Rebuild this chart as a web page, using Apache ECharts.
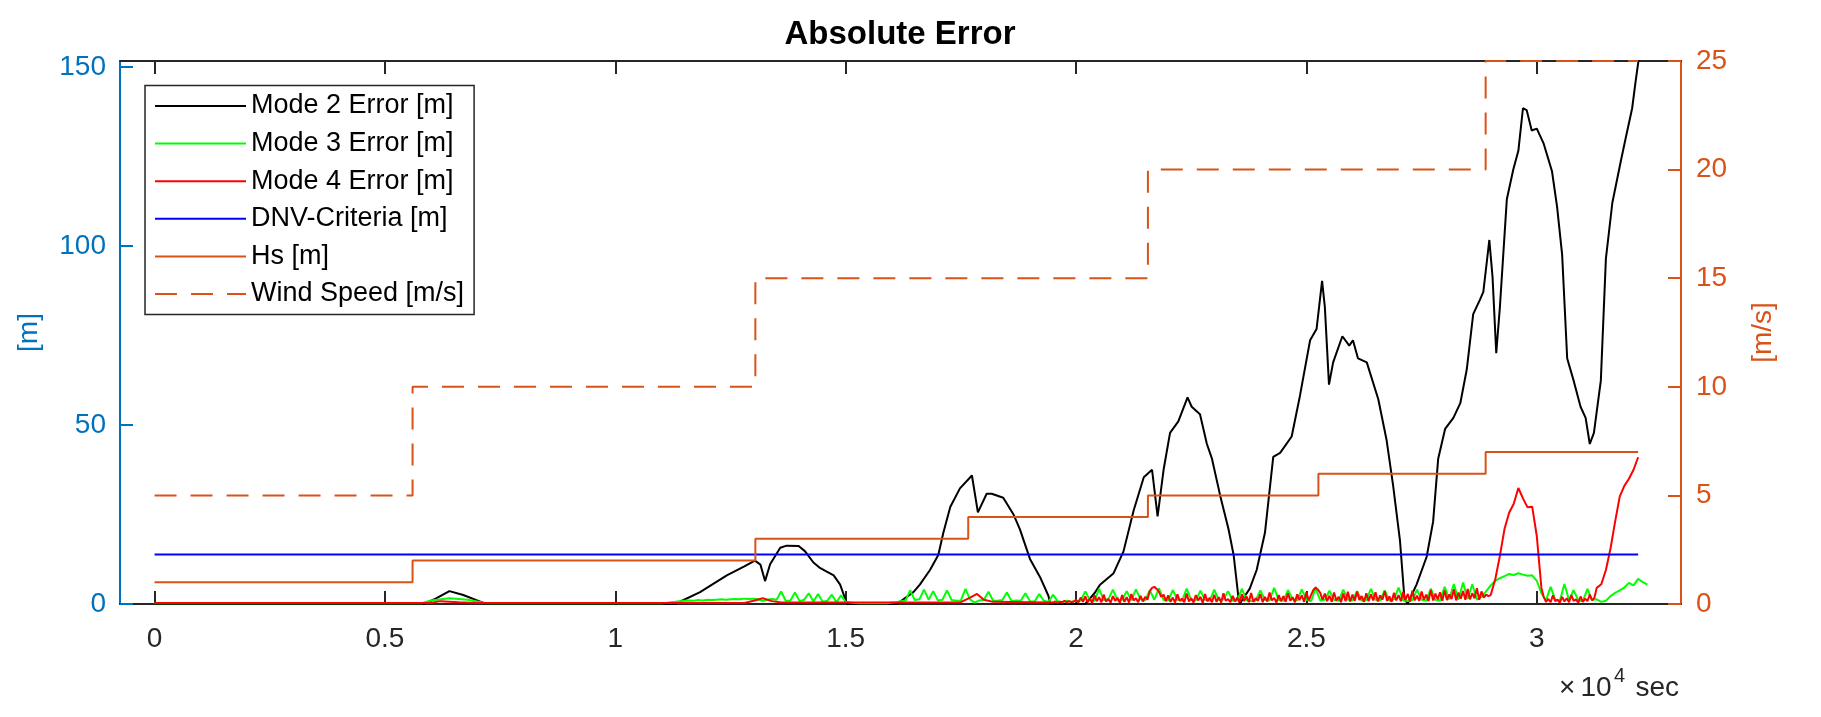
<!DOCTYPE html>
<html>
<head>
<meta charset="utf-8">
<script src="https://cdn.jsdelivr.net/npm/echarts@6/dist/echarts.min.js"></script>
<style>
html,body{margin:0;padding:0;background:#fff;}
#chart{width:1821px;height:717px;}
</style>
</head>
<body>
<div id="chart"></div>
<script>
// ---------- data (time in units of 1e4 sec) ----------
const xTicks = [0, 0.5, 1, 1.5, 2, 2.5, 3];
const leftTicks = [0, 50, 100, 150];
const rightTicks = [0, 5, 10, 15, 20, 25];

const seriesNames = ['Mode 2 Error [m]', 'Mode 3 Error [m]', 'Mode 4 Error [m]', 'DNV-Criteria [m]', 'Hs [m]', 'Wind Speed [m/s]'];

// Mode 2 error [m] : [time, value]
const mode2 = [
  [0,0],[0.585,0],[0.61,1.5],[0.64,3.6],[0.67,2.5],[0.70,1.0],[0.72,0],[1.13,0],
  [1.184,3.3],[1.242,8.0],[1.28,10.5],[1.303,12.1],[1.315,11.0],[1.325,6.4],[1.336,11.1],
  [1.358,15.7],[1.372,16.3],[1.398,16.2],[1.412,14.7],[1.43,11.6],[1.445,10.0],[1.474,8.0],
  [1.488,5.4],[1.503,0],[1.611,0],[1.647,3.3],[1.661,5.4],[1.683,9.5],[1.701,13.7],[1.712,19.9],
  [1.727,27.1],[1.748,32.3],[1.774,35.9],[1.777,36.3],[1.787,25.6],[1.806,30.8],[1.817,30.8],
  [1.842,29.7],[1.864,25.1],[1.878,20.9],[1.90,12.6],[1.922,7.5],[1.94,2.3],[1.944,0],[2.02,0],
  [2.04,3.0],[2.052,5.4],[2.081,8.5],[2.103,14.7],[2.125,26.1],[2.147,35.4],[2.165,37.5],
  [2.177,24.5],[2.19,37.5],[2.204,47.8],[2.222,51],[2.242,57.7],[2.251,55.1],[2.269,53],
  [2.284,44.7],[2.295,40.6],[2.313,30.2],[2.331,20.9],[2.342,13.7],[2.353,1.2],[2.356,0.2],
  [2.377,4.3],[2.392,9.5],[2.41,19.9],[2.428,41.1],[2.443,42.2],[2.468,46.8],[2.486,58.2],
  [2.508,73.7],[2.522,76.8],[2.534,90.3],[2.54,83],[2.549,61.3],[2.558,67.5],[2.578,74.8],
  [2.593,72.2],[2.601,73.7],[2.612,68.6],[2.631,67.5],[2.656,57.2],[2.674,45.8],[2.688,33.3],
  [2.703,17.8],[2.713,1.2],[2.72,0.2],[2.739,5.4],[2.761,13.2],[2.775,23.0],[2.786,40.6],
  [2.801,48.9],[2.819,52],[2.834,56.1],[2.848,65.5],[2.862,81],[2.877,85.1],[2.884,87.2],
  [2.897,101.7],[2.904,91.3],[2.912,70.1],[2.92,83.1],[2.935,113.1],[2.949,121.4],[2.96,126.6],
  [2.97,138.5],[2.978,138],[2.989,132.3],[3.0,132.8],[3.015,128.6],[3.033,120.9],[3.044,111],
  [3.055,97.6],[3.066,68.6],[3.08,62.4],[3.095,55.1],[3.106,52],[3.115,44.7],[3.124,47.8],
  [3.139,62.4],[3.15,96.5],[3.164,112.1],[3.182,123.5],[3.193,130.2],[3.207,138.5],
  [3.214,145.5],[3.222,153]
];

// Mode 3 error [m]
const mode3Lead = [[0,0.2],[0.58,0.2],[0.60,1.0],[0.64,1.6],[0.68,1.2],[0.72,0.2],[1.09,0.2]];
const mode3Start = 1.10, mode3Step = 0.01;
const mode3Values = [
  0.2,0.3,0.5,0.6,0.8,
  0.9,1.0,0.9,1.1,1.0,1.2,1.1,1.2,1.3,1.2,1.3,1.4,1.3,1.5,1.4,
  1.5,1.3,0.8,1.2,1.4,
  1.2,3.5,0.9,1.0,3.2,0.8,1.2,3.0,0.7,2.8,0.6,0.9,2.6,0.5,2.4,
  0.6,0.4,0.3,0.2,0.2,0.3,0.2,0.2,0.3,0.2,0.4,0.5,
  0.8,1.0,3.8,1.1,1.3,4.0,1.2,3.6,1.0,1.2,3.8,1.1,0.9,1.0,
  4.2,1.3,0.4,1.0,
  1.2,3.4,1.0,0.9,1.1,3.2,0.8,1.0,0.9,3.0,0.8,0.7,2.8,0.9,0.6,2.6,0.8,0.5,0.9,0.6,
  0.8,1.0,3.5,1.2,0.9,4.2,1.1,1.3,4.0,1.0,1.2,3.6,1.0,4.1,1.3,1.0,3.8,1.2,4.4,1.1,
  1.0,3.9,1.2,0.9,4.3,1.1,1.0,3.7,1.2,0.9,4.0,1.1,1.3,3.6,0.9,1.0,4.2,1.1,0.8,1.0,
  3.8,1.2,1.0,4.5,1.1,0.9,3.9,1.3,1.0,4.1,1.2,0.8,4.4,1.0,1.2,3.7,1.1,0.9,4.0,1.2,
  1.0,3.6,0.9,1.1,4.2,1.2,1.0,3.8,0.9,1.3,4.6,1.0,0.8,1.1,4.0,1.2,0.9,4.3,1.1,1.0,
  4.8,1.3,5.6,1.2,6.0,1.4,5.5,1.2,2.0,3.5,
  5.2,6.5,7.2,7.8,8.4,8.1,8.6,8.2,7.9,8.0,6.5,3.0,
  1.0,4.8,1.2,0.9,5.6,1.1,3.9,1.0,0.8,4.2,1.1,1.3,0.6,
  0.9,2.2,3.1,3.8,4.6,5.9,5.2,7.0,6.1,5.4
];

// Mode 4 error [m]
const mode4Lead = [[0,0.3],[0.6,0.3],[0.62,0.8],[0.66,0.5],[0.7,0.3],[1.28,0.3],[1.30,0.9],[1.32,1.6],
  [1.34,0.8],[1.36,0.4],[1.75,0.5],[1.77,1.8],[1.785,2.8],[1.80,1.2],[1.82,0.6],[1.90,0.5],[1.94,0.4]];
const mode4NoiseAStart = 1.95, mode4NoiseStep = 0.005;
const mode4NoiseA = [
  0.4,0.7,0.3,0.6,0.5,0.9,0.4,0.8,0.5,0.7,
  1.2,0.4,1.8,0.6,2.1,0.5,1.5,0.3,2.4,0.8,
  1.9,0.5,2.6,0.7,1.4,0.4,2.2,0.9,1.7,0.3,
  2.5,0.6,1.9,0.4,2.8,1.0,1.6,0.5,2.3,0.7,
  2.0,1.2,3.6,4.5,4.8,4.2,3.4,2.0,2.6,0.8,
  2.4,0.6,1.8,0.4,2.7,0.9,1.5,0.5,2.9,0.7,
  1.6,0.4,2.5,1.0,2.0,0.3,2.8,0.8,1.7,0.5,
  2.6,0.6,1.9,0.4,3.0,0.9,1.4,0.5,2.3,0.7,
  1.8,0.4,2.7,0.8,2.1,0.5,3.1,0.6,1.6,0.9,
  2.8,0.5,2.0,0.7,3.2,1.0,1.7,0.4,2.5,0.8,
  2.2,0.6,3.0,0.9,1.9,0.5,2.7,1.1,2.4,0.6,
  3.3,1.0,2.5,3.9,4.6,4.0,3.1,1.2,2.9,0.8,
  2.3,0.6,3.2,1.0,2.0,0.5,2.9,0.8,3.4,0.7,
  2.6,0.9,3.5,1.1,2.2,0.6,3.0,0.8,2.7,1.0,
  3.3,0.7,2.4,1.2,3.6,0.9,2.1,0.6,3.1,1.0,
  2.5,0.8,3.4,1.1,2.8,0.7,3.7,1.0,2.3,0.9,
  3.5,1.2,2.6,0.8,3.9,1.0,2.9,1.3,3.3,0.9,
  3.8,1.1,2.7,1.4,4.1,1.0,3.2,1.5,3.6,1.2,
  4.2,1.3,3.0,1.6,4.4,1.2,3.5,1.8,2.6,2.2
];
const mode4Hump = [[2.90,2.5],[2.91,7.0],[2.92,13.5],[2.93,21.0],[2.94,25.5],[2.95,28.0],[2.96,32.4],
  [2.97,29.5],[2.98,27.0],[2.99,27.2],[3.00,19.0],[3.01,4.5]];
const mode4NoiseBStart = 3.015;
const mode4NoiseB = [2.0,0.6,1.4,0.5,2.4,0.8,1.2,0.4,2.0,0.7,1.6,0.5,2.5,0.9,1.3,0.4,2.1,0.6,1.5,0.8,2.6,1.0,1.7];
const mode4Tail = [[3.13,4.5],[3.14,5.5],[3.15,9.5],[3.16,15.5],[3.17,23.0],[3.18,30.0],[3.19,33.0],
  [3.20,35.0],[3.21,37.5],[3.22,41.0]];

const dnvTimes = [0, 3.22];
const dnvValues = [13.8, 13.8];

const hsTimes = [0, 0.56, 1.304, 1.766, 2.156, 2.526, 2.889, 3.22];
const hsValues = [1, 2, 3, 4, 5, 6, 7, 7];

const windTimes = [0, 0.56, 1.304, 2.156, 2.889, 3.22];
const windValues = [5, 10, 15, 20, 25, 25];

// ---------- build ----------
function gridSeries(start, step, vals) {
  return vals.map((v, i) => [+(start + i * step).toFixed(4), v]);
}
function zip(ts, vs) { return ts.map((t, i) => [t, vs[i]]); }

const mode3 = mode3Lead.concat(gridSeries(mode3Start, mode3Step, mode3Values));
const mode4 = mode4Lead
  .concat(gridSeries(mode4NoiseAStart, mode4NoiseStep, mode4NoiseA))
  .concat(mode4Hump)
  .concat(gridSeries(mode4NoiseBStart, mode4NoiseStep, mode4NoiseB))
  .concat(mode4Tail);

const FONT = "'Liberation Sans', Arial, Helvetica, sans-serif";
const DARK = '#262626';
const BLUE_AX = '#0072BD';
const ORANGE = '#D95319';

const chart = echarts.init(document.getElementById('chart'), null, {renderer: 'canvas'});

const xCommon = {
  type: 'value', min: -0.075, max: 3.313,
  splitLine: {show: false},
  axisLine: {show: true, onZero: false, lineStyle: {color: DARK, width: 2}},
  axisTick: {show: true, inside: true, length: 13, customValues: xTicks, lineStyle: {color: DARK, width: 2}}
};

const option = {
  animation: false,
  backgroundColor: '#fff',
  title: {
    text: 'Absolute Error', left: 900, textAlign: 'center', top: 18.5, padding: 0,
    textStyle: {fontFamily: FONT, fontSize: 33, fontWeight: 'bold', color: '#000'}
  },
  grid: {left: 120, right: 140, top: 61, bottom: 113, outerBoundsMode: 'none'},
  legend: {
    left: 145, top: 85.5, orient: 'vertical',
    padding: [6.5, 10, 6.5, 9], itemGap: 9.6, itemWidth: 91, itemHeight: 14,
    backgroundColor: '#fff', borderColor: DARK, borderWidth: 1.5, borderRadius: 0,
    itemStyle: {opacity: 0, borderWidth: 0},
    textStyle: {fontFamily: FONT, fontSize: 27, color: '#000', lineHeight: 28},
    data: seriesNames, selectedMode: false
  },
  xAxis: [
    Object.assign({}, xCommon, {
      position: 'bottom',
      axisLabel: {show: true, customValues: xTicks, fontFamily: FONT, fontSize: 28, color: DARK, margin: 21}
    }),
    Object.assign({}, xCommon, {
      position: 'top',
      axisLabel: {show: false}
    })
  ],
  yAxis: [
    {
      type: 'value', min: 0, max: 151.7, position: 'left',
      splitLine: {show: false},
      axisLine: {show: true, onZero: false, lineStyle: {color: BLUE_AX, width: 2}},
      axisTick: {show: true, inside: true, length: 13, customValues: leftTicks, lineStyle: {color: BLUE_AX, width: 2}},
      axisLabel: {customValues: leftTicks, fontFamily: FONT, fontSize: 28, color: BLUE_AX, margin: 14, padding: [5, 0, 0, 0]},
      name: '[m]', nameLocation: 'middle', nameRotate: 90, nameGap: 77,
      nameTextStyle: {fontFamily: FONT, fontSize: 28, color: BLUE_AX, lineHeight: 28}
    },
    {
      type: 'value', min: 0, max: 25, position: 'right',
      splitLine: {show: false},
      axisLine: {show: true, onZero: false, lineStyle: {color: ORANGE, width: 2}},
      axisTick: {show: true, inside: true, length: 13, customValues: rightTicks, lineStyle: {color: ORANGE, width: 2}},
      axisLabel: {customValues: rightTicks, fontFamily: FONT, fontSize: 28, color: ORANGE, margin: 15, padding: [5, 0, 0, 0]},
      name: '[m/s]', nameLocation: 'middle', nameRotate: 90, nameGap: 68.5,
      nameTextStyle: {fontFamily: FONT, fontSize: 28, color: ORANGE, lineHeight: 28}
    }
  ],
  series: [
    {name: seriesNames[0], type: 'line', xAxisIndex: 0, yAxisIndex: 0, data: mode2, symbol: 'none',
      color: '#000', lineStyle: {color: '#000', width: 2}},
    {name: seriesNames[1], type: 'line', xAxisIndex: 0, yAxisIndex: 0, data: mode3, symbol: 'none',
      color: '#00FF00', lineStyle: {color: '#00FF00', width: 2}},
    {name: seriesNames[2], type: 'line', xAxisIndex: 0, yAxisIndex: 0, data: mode4, symbol: 'none',
      color: '#FF0000', lineStyle: {color: '#FF0000', width: 2}},
    {name: seriesNames[3], type: 'line', xAxisIndex: 0, yAxisIndex: 0, data: zip(dnvTimes, dnvValues), symbol: 'none',
      color: '#0000FF', lineStyle: {color: '#0000FF', width: 2}},
    {name: seriesNames[4], type: 'line', xAxisIndex: 0, yAxisIndex: 1, data: zip(hsTimes, hsValues), symbol: 'none', step: 'end',
      color: ORANGE, lineStyle: {color: ORANGE, width: 2}},
    {name: seriesNames[5], type: 'line', xAxisIndex: 0, yAxisIndex: 1, data: zip(windTimes, windValues), symbol: 'none', step: 'end',
      color: ORANGE, lineStyle: {color: ORANGE, width: 2, type: [22, 14]}}
  ],
  graphic: [
    {type: 'text', x: 1559, y: 688.3, style: {text: '×', font: '28px ' + FONT, fill: DARK, align: 'left', verticalAlign: 'middle'}},
    {type: 'text', x: 1580.5, y: 688.3, style: {text: '10', font: '28px ' + FONT, fill: DARK, align: 'left', verticalAlign: 'middle'}},
    {type: 'text', x: 1614, y: 676.4, style: {text: '4', font: '20px ' + FONT, fill: DARK, align: 'left', verticalAlign: 'middle'}},
    {type: 'text', x: 1635.5, y: 688.3, style: {text: 'sec', font: '28px ' + FONT, fill: DARK, align: 'left', verticalAlign: 'middle'}}
  ]
};

chart.setOption(option);
</script>
</body>
</html>
